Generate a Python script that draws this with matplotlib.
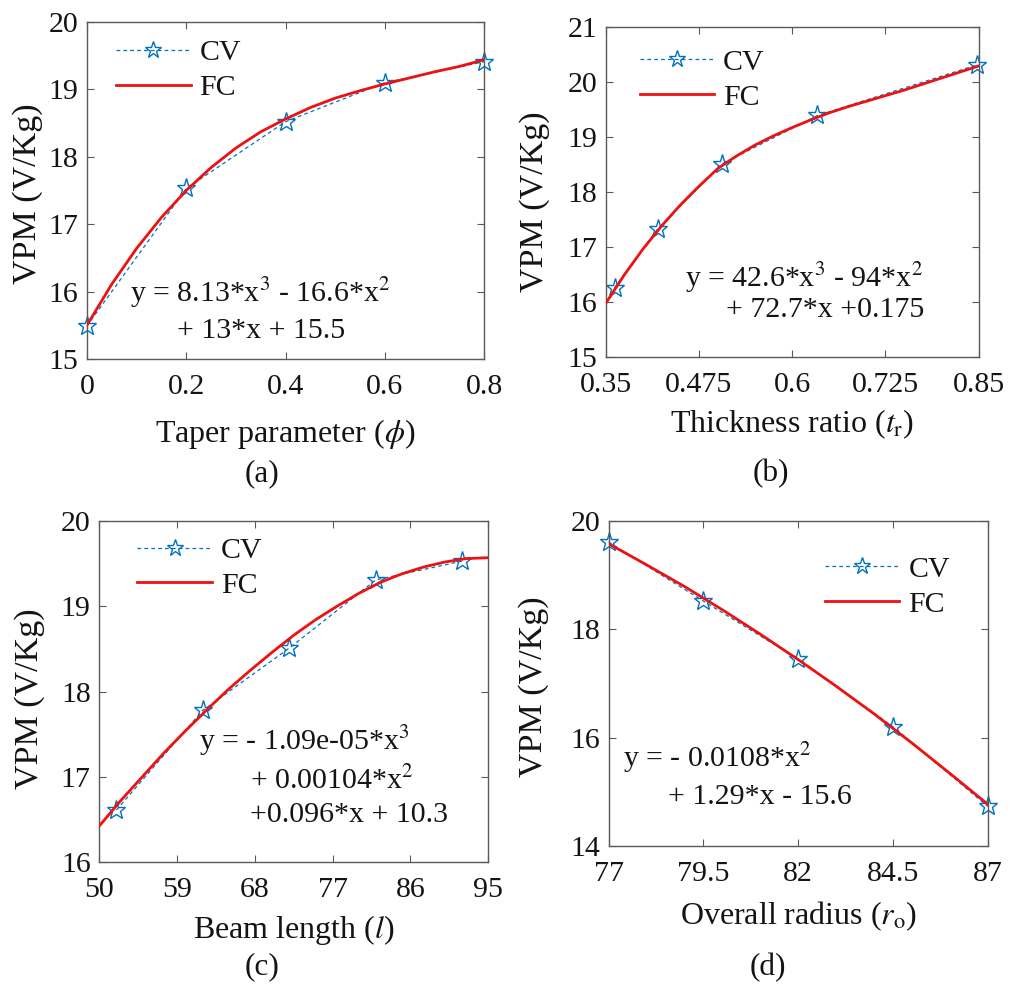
import numpy as np
import matplotlib
matplotlib.use("Agg")
import matplotlib.pyplot as plt

plt.rcParams['font.family'] = ['Liberation Serif', 'DejaVu Serif']
plt.rcParams['mathtext.fontset'] = 'stix'

# ---------------- data ----------------
# (a) Taper parameter
a_cv_x = [0.0, 0.2, 0.4, 0.6, 0.8]
a_cv_y = [15.49, 17.53, 18.52, 19.10, 19.41]
a_fc_x = [0.0, 0.05, 0.10, 0.15, 0.20, 0.25, 0.30, 0.35, 0.40, 0.45, 0.50,
          0.55, 0.60, 0.65, 0.70, 0.75, 0.80]
a_fc_y = [15.50, 16.11, 16.64, 17.10, 17.50, 17.84, 18.13, 18.37, 18.56, 18.73,
          18.87, 18.98, 19.08, 19.17, 19.26, 19.34, 19.44]

# (b) Thickness ratio
b_cv_x = [0.362, 0.420, 0.506, 0.634, 0.848]
b_cv_y = [16.26, 17.33, 18.51, 19.39, 20.31]
b_fc_x = [0.35, 0.375, 0.40, 0.425, 0.45, 0.475, 0.50, 0.525, 0.55, 0.575, 0.60,
          0.625, 0.65, 0.675, 0.70, 0.725, 0.75, 0.775, 0.80, 0.825, 0.85]
b_fc_y = [15.97, 16.49, 16.96, 17.38, 17.76, 18.10, 18.42, 18.65, 18.85, 19.02,
          19.17, 19.31, 19.44, 19.55, 19.65, 19.75, 19.85, 19.96, 20.07, 20.18, 20.29]

# (c) Beam length
c_cv_x = [52, 62, 72, 82, 92]
c_cv_y = [16.61, 17.78, 18.51, 19.31, 19.53]
c_fc_x = [50, 52.5, 55, 57.5, 60, 62.5, 65, 67.5, 70, 72.5, 75, 77.5, 80,
          82.5, 85, 87.5, 90, 92.5, 95]
c_fc_y = [16.42, 16.72, 17.00, 17.28, 17.54, 17.79, 18.03, 18.25, 18.46, 18.66,
          18.84, 19.00, 19.15, 19.28, 19.38, 19.46, 19.52, 19.56, 19.57]

# (d) Overall radius
d_cv_x = [77, 79.5, 82, 84.5, 87]
d_cv_y = [19.61, 18.52, 17.45, 16.20, 14.73]
d_fc_x = [77, 78, 79, 80, 81, 82, 83, 84, 85, 86, 87]
d_fc_y = [19.58, 19.19, 18.79, 18.36, 17.91, 17.44, 16.95, 16.44, 15.90, 15.34, 14.77]

panels = [
    dict(cvx=a_cv_x, cvy=a_cv_y, fcx=a_fc_x, fcy=a_fc_y,
         xlim=(0, 0.8), ylim=(15, 20),
         xticks=[0, 0.2, 0.4, 0.6, 0.8], xtl=['0', '0.2', '0.4', '0.6', '0.8'],
         yticks=[15, 16, 17, 18, 19, 20],
         xlabel=r'Taper parameter ($\phi$)', tag='(a)',
         rect=[0.086, 0.640, 0.393, 0.338],
         ylab=(-0.111, 0.49), xlab=(0.5, -0.222),
         leg=(0.073, 0.949),
         eq=[(0.108, 0.169, r'y = 8.13*x$^3$ - 16.6*x$^2$'),
             (0.227, 0.062, r'+ 13*x + 15.5')],
         tagpos=(0.259, 0.525)),
    dict(cvx=b_cv_x, cvy=b_cv_y, fcx=b_fc_x, fcy=b_fc_y,
         xlim=(0.35, 0.85), ylim=(15, 21),
         xticks=[0.35, 0.475, 0.6, 0.725, 0.85], xtl=['0.35', '0.475', '0.6', '0.725', '0.85'],
         yticks=[15, 16, 17, 18, 19, 20, 21],
         xlabel=r'Thickness ratio ($t_{\mathrm{r}}$)', tag='(b)',
         rect=[0.599, 0.642, 0.369, 0.331],
         ylab=(-0.150, 0.47), xlab=(0.5, -0.203),
         leg=(0.091, 0.933),
         eq=[(0.212, 0.212, r'y = 42.6*x$^3$ - 94*x$^2$'),
             (0.324, 0.121, r'+ 72.7*x +0.175')],
         tagpos=(0.762, 0.525)),
    dict(cvx=c_cv_x, cvy=c_cv_y, fcx=c_fc_x, fcy=c_fc_y,
         xlim=(50, 95), ylim=(16, 20),
         xticks=[50, 59, 68, 77, 86, 95], xtl=['50', '59', '68', '77', '86', '95'],
         yticks=[16, 17, 18, 19, 20],
         xlabel=r'Beam length ($l$)', tag='(c)',
         rect=[0.098, 0.1354, 0.385, 0.342],
         ylab=(-0.139, 0.478), xlab=(0.5, -0.200),
         leg=(0.098, 0.953),
         eq=[(0.257, 0.328, r'y = - 1.09e-05*x$^3$'),
             (0.388, 0.214, r'+ 0.00104*x$^2$'),
             (0.388, 0.117, r'+0.096*x + 10.3')],
         tagpos=(0.259, 0.030)),
    dict(cvx=d_cv_x, cvy=d_cv_y, fcx=d_fc_x, fcy=d_fc_y,
         xlim=(77, 87), ylim=(14, 20),
         xticks=[77, 79.5, 82, 84.5, 87], xtl=['77', '79.5', '82', '84.5', '87'],
         yticks=[14, 16, 18, 20],
         xlabel=r'Overall radius ($r_{\mathrm{o}}$)', tag='(d)',
         rect=[0.602, 0.1515, 0.375, 0.326],
         ylab=(-0.156, 0.489), xlab=(0.5, -0.216),
         leg=(0.57, 0.893),
         eq=[(0.037, 0.243, r'y = - 0.0108*x$^2$'),
             (0.156, 0.129, r'+ 1.29*x - 15.6')],
         tagpos=(0.760, 0.030)),
]

FS = 21.5
TXT = '#141414'
SPINE = '#5a5a5a'
CVC = '#0072BD'
FCC = '#ee1111'

fig = plt.figure(figsize=(10.11, 9.97), dpi=100)

for p in panels:
    ax = fig.add_axes(p['rect'])
    ax.plot(p['cvx'], p['cvy'], linestyle=(0, (3, 2.5)), color=CVC, linewidth=0.9,
            marker='*', markersize=14, markerfacecolor='none',
            markeredgecolor=CVC, markeredgewidth=1.0, label='CV', zorder=2, clip_on=False)
    ax.plot(p['fcx'], p['fcy'], linestyle='-', color=FCC, linewidth=2.0,
            label='FC', zorder=3)
    ax.set_xlim(*p['xlim'])
    ax.set_ylim(*p['ylim'])
    ax.set_xticks(p['xticks'])
    ax.set_xticklabels(p['xtl'])
    ax.set_yticks(p['yticks'])
    ax.tick_params(direction='in', length=5, width=0.8, colors=SPINE, labelcolor=TXT,
                   labelsize=FS, top=True, right=True)
    ax.tick_params(axis='x', pad=11)
    ax.tick_params(axis='y', pad=6)
    for s in ax.spines.values():
        s.set_color(SPINE)
        s.set_linewidth(1.0)
    ax.set_ylabel('VPM (V/Kg)', fontsize=24.5, color=TXT)
    ax.yaxis.set_label_coords(*p['ylab'])
    ax.set_xlabel(p['xlabel'], fontsize=23, color=TXT, va='center')
    ax.xaxis.set_label_coords(*p['xlab'])
    leg = ax.legend(loc='upper left', bbox_to_anchor=p['leg'], frameon=False,
                    fontsize=FS, borderpad=0, borderaxespad=0, handlelength=2.5,
                    handletextpad=0.3, labelspacing=0.27)
    leg.legend_handles[0].set_markersize(12.5)
    for t in leg.get_texts():
        t.set_color(TXT)
    for (x, y, s) in p['eq']:
        ax.text(x, y, s, transform=ax.transAxes, fontsize=FS, color=TXT,
                ha='left', va='baseline')
    fig.text(p['tagpos'][0], p['tagpos'][1], p['tag'], fontsize=FS + 1, color=TXT,
             ha='center', va='center')

fig.savefig('out.png', dpi=100)
